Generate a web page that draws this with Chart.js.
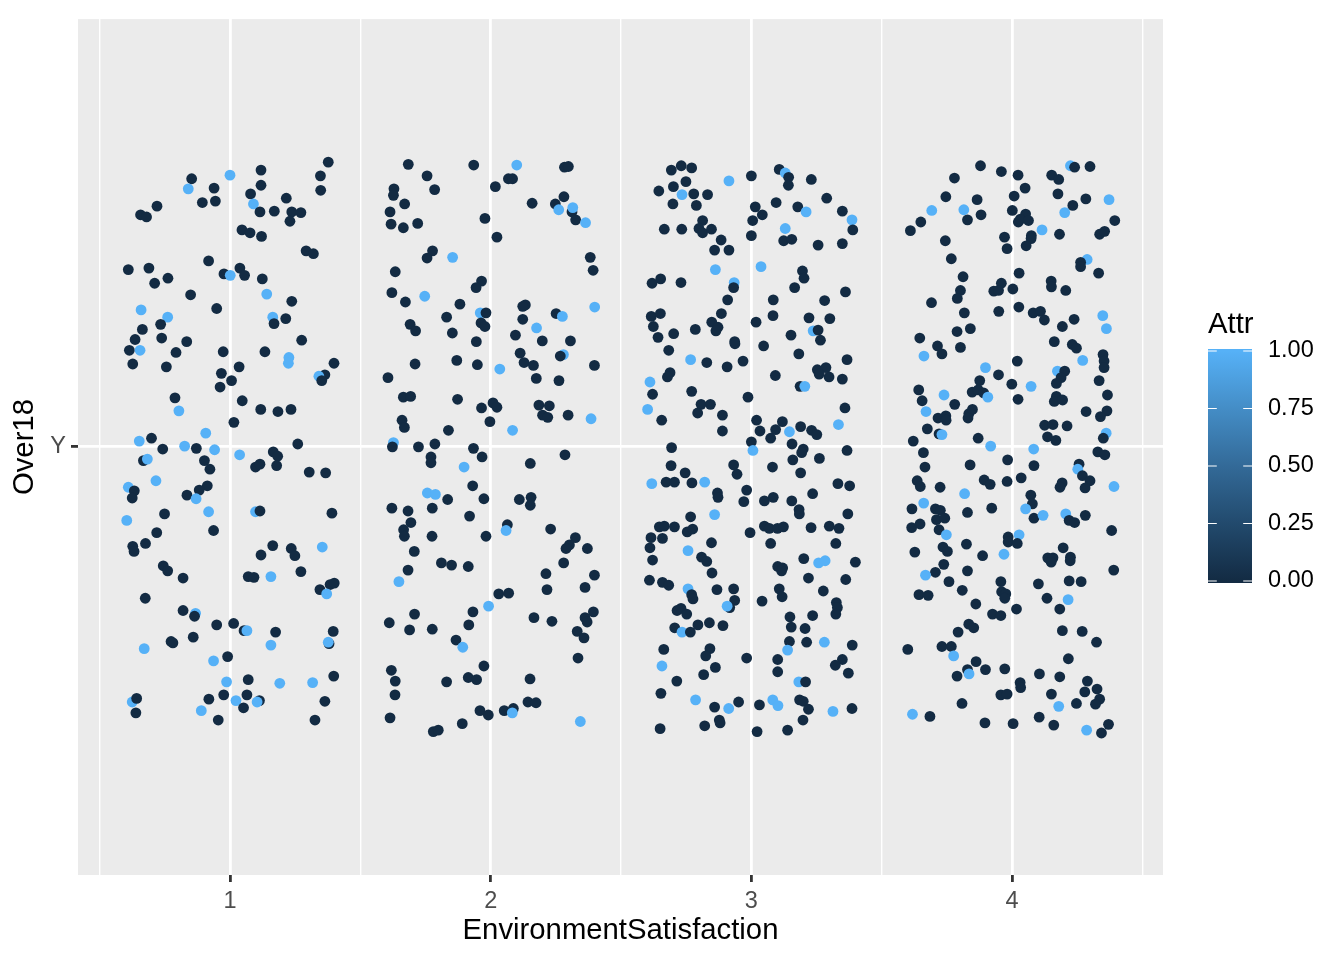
<!DOCTYPE html>
<html><head><meta charset="utf-8">
<script src="https://cdn.jsdelivr.net/npm/chart.js@4.4.1/dist/chart.umd.min.js"></script>
<style>html,body{margin:0;padding:0;background:#fff}#wrap{width:1344px;height:960px}</style>
</head><body><div id="wrap"><canvas id="c" width="1344" height="960"></canvas></div>
<script>
// ---- data ----
const categories = [1, 2, 3, 4];
const xTickLabels = ['1', '2', '3', '4'];
const yTickLabels = ['Y'];
const legendBreaks = [0, 0.25, 0.5, 0.75, 1];
const legendLabels = ['0.00', '0.25', '0.50', '0.75', '1.00'];
// each point: [EnvironmentSatisfaction (jittered), Over18 (jittered), Attr]
const sat1 = [
[1.377,1.395,0],[1.119,1.384,0],[1.000,1.377,1],[1.347,1.376,0],[0.853,1.372,0],[0.840,1.358,1],[0.939,1.359,0],[1.119,1.363,0],[1.348,1.356,0],[1.079,1.351,0],[1.216,1.345,0],[0.894,1.339,0],[0.944,1.341,0],[1.090,1.337,1],[0.720,1.334,0],[0.657,1.322,0],[0.680,1.319,0],[1.115,1.326,0],[1.170,1.327,0],[1.237,1.326,0],[1.272,1.325,0],[1.230,1.313,0],[1.046,1.301,0],[1.077,1.297,0],[1.121,1.292,0],[1.292,1.272,0],[1.320,1.268,0],[0.918,1.258,0],[0.610,1.246,0],[0.689,1.248,0],[0.977,1.240,0],[1.038,1.248,0],[1.056,1.238,0],[1.001,1.238,1],[1.124,1.233,0],[0.762,1.234,0],[0.711,1.227,0],[1.141,1.212,1],[0.849,1.211,0],[1.237,1.202,0],[0.659,1.190,1],[0.949,1.192,0],[0.761,1.180,1],[1.164,1.180,1],[1.214,1.178,0],[1.169,1.171,0],[0.734,1.170,0],[0.664,1.163,0],[0.738,1.151,0],[0.636,1.149,0],[0.834,1.146,0],[1.275,1.148,0],
[0.614,1.134,0],[0.655,1.134,1],[0.793,1.131,0],[0.974,1.132,0],[1.134,1.132,0],[1.226,1.124,1],[1.224,1.116,1],[1.399,1.116,0],[0.627,1.115,0],[0.756,1.111,0],[1.035,1.111,0],[1.364,1.100,0],[1.341,1.098,1],[1.352,1.092,0],[0.967,1.102,0],[1.006,1.092,0],[0.962,1.083,0],[0.789,1.068,0],[1.047,1.064,0],[0.804,1.050,1],[1.118,1.052,0],[1.184,1.049,0],[1.234,1.052,0],[1.015,1.034,0],[0.907,1.019,1],[0.652,1.008,1],[0.699,1.012,0],[0.742,0.997,0],[0.826,1.001,1],[0.871,0.998,0],[0.941,0.996,1],[1.260,1.004,0],[1.166,0.993,0],[1.183,0.987,0],[1.037,0.989,1],[0.668,0.981,0],[0.683,0.983,1],[0.902,0.981,0],[0.923,0.969,0],[1.098,0.972,0],[1.115,0.976,0],[1.179,0.974,0],[1.304,0.965,0],[1.367,0.964,0],[0.716,0.953,1],[0.610,0.944,1],[0.633,0.939,0],[0.625,0.929,0],[0.913,0.946,0],[0.882,0.940,0],[0.835,0.933,0],[0.870,0.928,1],[1.098,0.910,1],[1.115,0.911,0],[0.918,0.910,1],[0.749,0.907,0],[1.391,0.908,0],[0.604,0.898,1],[0.719,0.881,0],[0.937,0.884,0],
[0.676,0.866,0],[0.627,0.862,0],[0.632,0.855,0],[1.164,0.863,0],[1.235,0.859,0],[1.249,0.849,0],[1.354,0.861,1],[1.119,0.850,0],[0.744,0.835,0],[0.761,0.828,0],[0.820,0.818,0],[1.070,0.820,0],[1.092,0.819,0],[1.157,0.820,1],[1.272,0.827,0],[1.345,0.802,0],[1.384,0.809,0],[1.400,0.811,0],[1.371,0.796,1],[0.675,0.790,0],[0.820,0.773,0],[0.868,0.769,1],[0.864,0.765,0],[0.949,0.753,0],[1.014,0.755,0],[1.054,0.745,0],[1.065,0.745,1],[1.175,0.743,0],[1.396,0.744,0],[1.380,0.727,0],[1.377,0.729,1],[0.671,0.720,1],[0.774,0.730,0],[0.781,0.728,0],[0.859,0.736,0],[1.157,0.725,1],[0.937,0.703,1],[0.991,0.709,0],[0.987,0.674,1],[1.070,0.677,0],[1.191,0.672,1],[1.317,0.673,1],[1.398,0.682,0],[0.625,0.646,1],[0.642,0.651,0],[0.639,0.631,0],[0.919,0.650,0],[0.976,0.656,0],[1.065,0.656,0],[1.023,0.648,1],[1.113,0.648,0],[1.104,0.646,1],[1.052,0.638,0],[0.890,0.634,1],[0.955,0.621,0],[1.364,0.647,0],[1.326,0.621,0]
];
const sat2 = [
[1.684,1.392,0],[1.935,1.391,0],[2.100,1.391,1],[2.283,1.388,0],[2.298,1.389,0],[1.756,1.376,0],[2.068,1.372,0],[2.084,1.372,0],[1.785,1.357,0],[2.018,1.361,0],[1.629,1.358,0],[1.627,1.349,0],[1.670,1.337,0],[1.614,1.326,0],[2.159,1.338,0],[2.248,1.337,0],[2.281,1.347,0],[2.261,1.329,1],[2.312,1.326,0],[2.315,1.332,1],[2.326,1.315,0],[2.364,1.311,1],[1.618,1.309,0],[1.665,1.304,0],[1.720,1.310,0],[1.978,1.317,0],[2.024,1.291,0],[1.777,1.272,0],[1.756,1.262,0],[1.854,1.263,1],[2.382,1.263,0],[2.393,1.245,0],[1.634,1.243,0],[1.965,1.230,0],[1.944,1.221,0],[1.621,1.214,0],[1.673,1.201,0],[1.747,1.209,1],[1.882,1.198,0],[2.133,1.197,0],[2.123,1.195,0],[2.399,1.194,1],[1.831,1.180,0],[1.960,1.186,1],[1.982,1.186,0],[2.123,1.177,0],[2.251,1.185,0],[2.275,1.181,1],[1.691,1.170,0],[1.712,1.161,0],[1.853,1.158,0],[1.963,1.172,0],[1.978,1.167,0],[2.176,1.165,1],[2.095,1.155,0],[2.198,1.147,0],[2.306,1.147,0],[1.945,1.146,0],
[2.113,1.130,0],[2.279,1.128,1],[2.267,1.126,0],[1.710,1.115,0],[1.870,1.120,0],[1.949,1.114,0],[2.035,1.108,1],[2.128,1.117,0],[2.164,1.113,0],[2.398,1.113,0],[1.606,1.096,0],[2.175,1.095,0],[2.262,1.092,0],[1.665,1.069,0],[1.693,1.070,0],[1.873,1.066,0],[1.965,1.054,0],[2.009,1.061,0],[2.024,1.055,0],[2.185,1.058,0],[2.225,1.057,0],[2.199,1.044,0],[2.219,1.041,0],[2.297,1.044,0],[2.385,1.039,1],[1.660,1.037,0],[1.669,1.027,0],[1.997,1.035,0],[1.838,1.023,0],[2.084,1.023,1],[1.627,1.006,1],[1.623,1.000,0],[1.723,1.000,0],[1.786,1.004,0],[1.934,0.998,0],[1.967,0.986,0],[1.771,0.986,0],[1.771,0.978,0],[2.285,0.989,0],[2.152,0.977,0],[1.898,0.972,1],[1.931,0.946,0],[1.757,0.936,1],[1.788,0.934,1],[1.835,0.927,0],[1.974,0.928,0],[2.110,0.927,0],[2.155,0.930,0],[2.152,0.919,0],[1.621,0.915,0],[1.683,0.911,0],[1.776,0.915,0],[1.694,0.895,0],[1.919,0.904,0],[1.666,0.885,0],[1.669,0.876,0],[1.775,0.876,0],[1.982,0.876,0],[2.064,0.892,0],[2.059,0.884,1],[2.230,0.886,0],[2.325,0.874,0],
[2.302,0.864,0],[2.289,0.859,0],[2.371,0.859,0],[1.707,0.855,0],[2.280,0.839,0],[1.811,0.839,0],[1.850,0.836,0],[1.914,0.834,0],[1.683,0.829,0],[1.648,0.813,1],[2.212,0.824,0],[2.398,0.822,0],[2.216,0.802,0],[2.362,0.805,0],[2.031,0.796,0],[2.069,0.797,0],[1.992,0.779,1],[1.708,0.768,0],[1.932,0.771,0],[1.611,0.756,0],[1.689,0.746,0],[1.776,0.747,0],[1.916,0.753,0],[2.166,0.763,0],[2.235,0.758,0],[2.362,0.763,0],[2.394,0.771,0],[2.370,0.757,0],[2.332,0.744,0],[2.358,0.735,0],[1.867,0.732,0],[1.893,0.722,1],[2.335,0.707,0],[1.619,0.690,0],[1.634,0.675,0],[1.633,0.656,0],[1.831,0.674,0],[1.914,0.680,0],[1.946,0.677,0],[1.974,0.696,0],[2.151,0.678,0],[2.143,0.646,0],[2.174,0.645,0],[1.959,0.634,0],[1.991,0.628,0],[2.052,0.634,0],[2.087,0.637,0],[2.083,0.631,1],[2.344,0.619,1],[1.614,0.624,0],[1.891,0.616,0],[1.780,0.605,0],[1.799,0.607,0]
];
const sat3 = [
[2.693,1.384,0],[2.731,1.390,0],[2.771,1.387,0],[2.914,1.369,1],[3.000,1.376,0],[3.107,1.385,0],[3.130,1.380,1],[3.143,1.374,0],[3.142,1.363,0],[3.230,1.371,0],[2.701,1.361,0],[2.749,1.368,0],[2.645,1.355,0],[2.734,1.350,1],[2.779,1.351,0],[2.832,1.350,0],[2.699,1.337,0],[2.789,1.335,0],[3.289,1.345,0],[3.015,1.333,0],[3.042,1.322,0],[3.095,1.339,0],[3.178,1.333,0],[3.210,1.326,1],[3.349,1.327,0],[3.386,1.315,1],[3.389,1.301,0],[3.005,1.314,0],[2.813,1.314,0],[2.799,1.303,0],[2.813,1.297,0],[2.847,1.302,0],[2.666,1.302,0],[2.733,1.302,0],[3.130,1.303,1],[3.000,1.293,0],[3.124,1.286,0],[3.155,1.288,0],[3.256,1.280,0],[3.349,1.282,0],[2.884,1.287,0],[2.859,1.273,0],[2.914,1.273,0],[2.862,1.246,1],[3.037,1.250,1],[3.196,1.244,0],[3.202,1.234,0],[2.619,1.227,0],[2.652,1.233,0],[2.730,1.228,0],[2.934,1.228,1],[2.932,1.221,0],[3.166,1.221,0],[3.361,1.215,0],[2.909,1.204,0],[3.084,1.204,0],[3.281,1.203,0],[2.616,1.181,0],[2.651,1.185,0],[2.885,1.185,0],[2.624,1.167,0],[2.642,1.152,0],[2.702,1.157,0],[2.785,1.163,0],[2.848,1.173,0],[2.872,1.166,0],[2.864,1.161,0],[3.018,1.173,0],[3.083,1.182,0],[3.221,1.179,0],[3.301,1.178,0],[3.237,1.161,1],[3.256,1.162,0],[3.265,1.148,0],[3.152,1.155,0],[2.936,1.146,0],[2.937,1.143,0],[3.047,1.140,0],
[2.683,1.134,0],[3.182,1.129,0],[2.767,1.121,1],[2.829,1.117,0],[2.907,1.111,0],[2.968,1.119,0],[3.367,1.121,0],[2.688,1.103,0],[2.678,1.097,0],[3.092,1.099,0],[3.253,1.107,0],[3.286,1.110,0],[3.260,1.101,0],[3.298,1.097,0],[3.349,1.094,0],[3.187,1.084,0],[3.205,1.084,1],[2.611,1.090,1],[2.621,1.073,0],[2.771,1.077,0],[2.987,1.069,0],[2.602,1.052,1],[2.656,1.037,0],[2.807,1.059,0],[2.843,1.059,0],[2.794,1.047,0],[2.889,1.044,0],[2.889,1.022,0],[3.359,1.054,0],[3.020,1.037,0],[3.033,1.022,0],[3.119,1.035,0],[3.093,1.024,0],[3.074,1.012,0],[3.146,1.021,1],[3.189,1.028,0],[3.231,1.023,0],[3.251,1.017,0],[3.334,1.031,1],[3.000,1.007,0],[3.006,0.995,1],[3.156,1.004,0],[3.199,0.997,0],[3.193,0.992,0],[3.159,0.982,0],[3.261,0.984,0],[3.367,0.995,0],[2.694,0.999,0],[2.692,0.974,0],[2.932,0.975,0],[2.945,0.962,0],[2.746,0.964,0],[3.081,0.972,0],[3.189,0.964,0],[2.618,0.949,1],[2.673,0.951,0],[2.705,0.951,0],[2.772,0.950,0],[2.821,0.951,1],[2.870,0.936,0],[2.872,0.930,0],[2.982,0.940,0],[2.971,0.924,0],[3.050,0.925,0],[3.084,0.930,0],[3.155,0.925,0],[3.183,0.913,0],[3.184,0.907,0],[3.235,0.935,0],[3.332,0.949,0],[3.377,0.946,0],[2.859,0.906,1],[2.767,0.903,0],[2.647,0.889,0],[2.666,0.890,0],[2.705,0.889,0],[2.754,0.882,0],[2.775,0.886,0],[2.995,0.881,0],[3.050,0.890,0],[3.069,0.887,0],[3.100,0.887,0],[3.123,0.889,0],[3.229,0.888,0],[3.299,0.890,0],[3.336,0.887,0],[3.370,0.907,0],[2.615,0.874,0],[2.659,0.873,0],
[2.611,0.860,0],[2.757,0.856,1],[2.847,0.867,0],[3.074,0.866,0],[3.324,0.866,0],[2.621,0.843,0],[2.809,0.847,0],[2.829,0.841,0],[2.849,0.825,0],[3.201,0.845,0],[3.258,0.839,1],[3.283,0.842,1],[3.399,0.840,0],[3.101,0.834,0],[3.120,0.832,0],[3.116,0.828,0],[3.219,0.818,0],[3.362,0.816,0],[2.609,0.815,0],[2.659,0.812,0],[2.683,0.808,0],[2.757,0.803,1],[2.771,0.795,0],[2.776,0.789,0],[2.868,0.802,0],[2.932,0.803,0],[2.936,0.787,0],[2.917,0.777,0],[2.907,0.779,1],[3.107,0.803,0],[3.118,0.792,0],[3.041,0.786,0],[3.276,0.800,0],[3.326,0.784,0],[3.330,0.777,0],[3.324,0.768,0],[2.715,0.773,0],[2.730,0.776,0],[2.752,0.768,0],[3.148,0.764,0],[3.235,0.766,0],[2.795,0.753,0],[2.839,0.756,0],[2.891,0.752,0],[2.706,0.749,0],[2.734,0.743,1],[2.766,0.743,0],[3.153,0.750,0],[3.206,0.748,0],[3.146,0.730,0],[3.212,0.729,0],[3.280,0.729,1],[3.387,0.725,0],[2.664,0.719,0],[2.841,0.720,0],[2.825,0.710,0],[2.982,0.707,0],[3.101,0.705,0],[3.139,0.718,1],[2.657,0.696,1],[3.349,0.705,0],[3.322,0.697,0],[3.372,0.686,0],[2.862,0.694,0],[2.817,0.684,0],[3.101,0.688,0],[2.714,0.675,0],[3.182,0.674,1],[3.208,0.674,0],[2.653,0.658,0],[2.786,0.649,1],[2.859,0.639,0],[2.913,0.637,1],[2.951,0.646,0],[3.031,0.642,0],[3.082,0.649,1],[3.102,0.641,1],[3.185,0.649,0],[3.199,0.647,0],[3.219,0.636,0],[3.313,0.633,1],[3.386,0.637,0],[3.198,0.621,0],[2.877,0.621,0],[2.880,0.617,0],[2.821,0.613,0],[2.650,0.609,0],[3.022,0.605,0],[3.139,0.607,0]
];
const sat4 = [
[3.879,1.390,0],[3.959,1.382,0],[4.023,1.377,0],[3.779,1.373,0],[4.224,1.390,1],[4.240,1.388,0],[4.299,1.389,0],[4.152,1.377,0],[4.179,1.371,0],[4.050,1.359,0],[4.176,1.351,0],[3.746,1.347,0],[3.866,1.343,0],[4.008,1.348,0],[4.283,1.344,0],[4.233,1.335,0],[4.202,1.325,1],[4.372,1.343,1],[3.692,1.328,1],[3.815,1.329,1],[3.829,1.315,0],[3.881,1.322,0],[4.001,1.328,0],[4.052,1.323,0],[4.024,1.312,0],[4.032,1.316,0],[4.063,1.314,0],[3.650,1.312,0],[3.610,1.300,0],[4.115,1.301,1],[4.182,1.295,0],[4.394,1.314,0],[4.336,1.295,0],[4.355,1.299,0],[3.744,1.286,0],[3.971,1.291,0],[3.981,1.275,0],[4.074,1.293,0],[4.073,1.289,0],[4.054,1.279,0],[3.767,1.261,0],[4.288,1.260,1],[4.263,1.256,0],[4.263,1.250,0],[4.332,1.241,0],[3.812,1.236,0],[4.027,1.241,0],[3.802,1.217,0],[3.790,1.206,0],[3.930,1.216,0],[3.959,1.227,0],[3.948,1.217,0],[4.003,1.219,0],[4.150,1.230,0],[4.151,1.222,0],[4.206,1.217,0],[3.691,1.200,0],[3.817,1.186,0],[3.949,1.188,0],[4.026,1.194,0],[4.081,1.186,0],[4.109,1.188,0],[4.124,1.176,0],[4.238,1.177,0],[4.193,1.167,0],[4.348,1.182,1],[4.362,1.164,1],[3.789,1.160,0],[3.840,1.164,0],[3.646,1.151,0],[3.714,1.140,0],[3.802,1.138,0],[4.162,1.146,0],[4.231,1.142,0],[4.247,1.137,0],
[3.662,1.126,1],[3.731,1.129,0],[4.349,1.128,0],[4.353,1.119,0],[4.353,1.110,0],[4.020,1.119,0],[4.271,1.120,1],[3.898,1.110,1],[3.948,1.100,0],[4.174,1.105,1],[4.202,1.105,0],[4.188,1.096,0],[4.170,1.088,0],[3.876,1.092,0],[3.999,1.087,0],[4.073,1.084,1],[4.334,1.092,0],[3.642,1.079,0],[3.739,1.072,1],[3.847,1.076,0],[3.870,1.079,0],[3.891,1.075,0],[3.907,1.069,1],[4.023,1.066,0],[3.655,1.064,0],[3.780,1.059,0],[4.170,1.070,0],[4.162,1.063,0],[4.194,1.065,0],[4.366,1.072,0],[3.670,1.049,1],[3.716,1.040,0],[3.746,1.043,0],[3.747,1.037,0],[3.834,1.046,0],[3.848,1.052,0],[3.831,1.040,0],[4.284,1.049,0],[4.364,1.050,0],[4.339,1.042,0],[3.675,1.025,0],[3.720,1.018,0],[3.731,1.017,1],[4.125,1.030,0],[4.157,1.031,0],[4.211,1.029,0],[4.136,1.014,0],[4.168,1.009,0],[4.361,1.019,1],[4.350,1.012,0],[3.621,1.008,0],[3.870,1.012,0],[3.918,1.001,1],[4.083,0.997,1],[3.660,0.992,0],[4.329,0.993,0],[4.356,0.989,0],[3.666,0.972,0],[3.839,0.975,0],[3.983,0.982,0],[4.084,0.974,0],[4.257,0.976,0],[4.252,0.969,1],[4.270,0.960,0],[4.299,0.953,0],[4.280,0.943,0],[3.636,0.953,0],[3.648,0.945,0],[3.724,0.944,0],[3.893,0.954,0],[3.916,0.948,0],[3.981,0.952,0],[4.035,0.957,0],[4.192,0.950,0],[4.184,0.944,0],[4.391,0.945,1],[3.818,0.935,1],[4.072,0.933,0],[4.078,0.921,0],[4.052,0.914,1],[4.084,0.901,0],[4.119,0.905,1],[4.206,0.907,1],[4.219,0.898,0],[4.240,0.895,0],[4.281,0.905,0],[3.661,0.922,1],[3.616,0.914,0],[3.706,0.914,0],[3.725,0.912,0],[3.710,0.899,0],[3.742,0.901,0],[3.829,0.909,0],[3.922,0.915,0],[3.720,0.885,0],[3.748,0.878,1],[3.615,0.888,0],[3.647,0.893,0],[4.382,0.884,0],[3.985,0.875,0],[4.027,0.878,1],
[3.735,0.861,0],[3.752,0.855,0],[3.825,0.865,0],[3.985,0.868,0],[4.020,0.866,0],[3.969,0.851,1],[4.196,0.860,0],[3.627,0.854,0],[3.887,0.849,0],[3.738,0.837,0],[3.706,0.826,0],[3.668,0.822,1],[3.829,0.828,0],[3.758,0.813,0],[3.809,0.801,0],[4.137,0.846,0],[4.157,0.846,0],[4.150,0.840,0],[4.224,0.847,0],[4.223,0.842,0],[4.390,0.829,0],[3.957,0.813,0],[3.960,0.799,0],[3.976,0.796,0],[3.972,0.790,0],[4.101,0.810,0],[4.219,0.814,0],[4.265,0.813,0],[3.643,0.795,0],[3.678,0.794,0],[4.134,0.790,0],[4.215,0.788,1],[4.183,0.775,0],[3.861,0.782,0],[3.925,0.768,0],[3.957,0.766,0],[4.017,0.775,0],[3.834,0.754,0],[3.853,0.749,0],[3.793,0.743,0],[4.193,0.745,0],[4.269,0.744,0],[4.324,0.729,0],[3.600,0.719,0],[3.731,0.723,0],[3.767,0.723,0],[3.776,0.710,1],[4.216,0.706,0],[3.862,0.702,0],[3.829,0.691,0],[3.898,0.691,0],[3.835,0.685,1],[3.789,0.682,0],[3.972,0.692,0],[4.105,0.685,0],[4.183,0.681,0],[4.031,0.673,0],[4.033,0.666,0],[4.289,0.675,0],[4.279,0.660,0],[4.326,0.664,0],[4.336,0.650,0],[4.320,0.643,0],[4.247,0.644,0],[4.151,0.657,0],[4.179,0.640,1],[3.957,0.656,0],[3.981,0.657,0],[3.808,0.644,0],[3.618,0.629,1],[3.685,0.626,0],[3.896,0.617,0],[4.004,0.616,0],[4.104,0.625,0],[4.160,0.614,0],[4.286,0.607,1],[4.343,0.603,0],[4.370,0.615,0]
];

// ---- styling ----
const FONT = "'Liberation Sans', Arial, Helvetica, sans-serif";
const LOW = '#132B43', HIGH = '#56B1F7';
const PANEL_BG = '#EBEBEB';
const PANEL = {left: 78, top: 15, right: 1163, bottom: 875};
const MAJOR_W = 2.8, MINOR_W = 1.4;

const allPoints = [].concat(sat1, sat2, sat3, sat4).map(p => ({x: p[0], y: p[1], a: p[2]}));

const bgPlugin = {
  id: 'bg',
  beforeDraw(chart) {
    const c = chart.ctx, a = chart.chartArea;
    c.save();
    c.fillStyle = '#fff';
    c.fillRect(0, 0, chart.width, chart.height);
    c.fillStyle = PANEL_BG;
    c.fillRect(a.left, a.top, a.right - a.left, a.bottom - a.top);
    c.restore();
  }
};

const annoPlugin = {
  id: 'anno',
  afterDraw(chart) {
    const c = chart.ctx, a = chart.chartArea;
    c.save();
    c.fillStyle = '#000';
    c.font = '29.3px ' + FONT;
    c.textAlign = 'center';
    c.textBaseline = 'middle';
    c.fillText('EnvironmentSatisfaction', (a.left + a.right) / 2, 931);
    c.save();
    c.translate(25, (a.top + a.bottom) / 2);
    c.rotate(-Math.PI / 2);
    c.fillText('Over18', 0, 0);
    c.restore();
    // legend
    const bx = 1208, bw = 44, bt = 351, bb = 581;
    c.textAlign = 'left';
    c.fillText('Attr', bx, 325);
    const g = c.createLinearGradient(0, bb, 0, bt);
    g.addColorStop(0, '#132B43');
    g.addColorStop(0.25, '#224A6D');
    g.addColorStop(0.5, '#336A98');
    g.addColorStop(0.75, '#448DC6');
    g.addColorStop(1, '#56B1F7');
    c.fillStyle = g;
    c.fillRect(bx, bt - 2, bw, bb - bt + 4);
    c.strokeStyle = '#fff';
    c.lineWidth = 1.2;
    c.font = '23.5px ' + FONT;
    c.fillStyle = '#000';
    legendBreaks.forEach((v, i) => {
      const y = bb - v * (bb - bt);
      c.beginPath();
      c.moveTo(bx, y); c.lineTo(bx + bw / 5, y);
      c.moveTo(bx + bw, y); c.lineTo(bx + bw - bw / 5, y);
      c.stroke();
      c.fillText(legendLabels[i], 1268, y);
    });
    c.restore();
  }
};

const isMajorX = v => categories.includes(v);

new Chart(document.getElementById('c'), {
  type: 'scatter',
  data: {
    datasets: [{
      data: allPoints,
      pointRadius: 5.4,
      pointHoverRadius: 5.4,
      borderWidth: 0,
      backgroundColor: ctx => (ctx.raw && ctx.raw.a) ? HIGH : LOW
    }]
  },
  options: {
    responsive: false,
    animation: false,
    devicePixelRatio: 1,
    layout: {padding: {left: 0, top: PANEL.top, right: 1344 - PANEL.right, bottom: 0}},
    plugins: {legend: {display: false}, tooltip: {enabled: false}},
    scales: {
      x: {
        type: 'linear',
        min: 0.417, max: 4.579,
        afterBuildTicks: s => { s.ticks = [0.5, 1, 1.5, 2, 2.5, 3, 3.5, 4, 4.5].map(v => ({value: v})); },
        afterFit: s => { s.height = 960 - PANEL.bottom; },
        border: {display: false},
        grid: {
          color: '#FFFFFF',
          lineWidth: c => isMajorX(c.tick.value) ? MAJOR_W : MINOR_W,
          tickColor: c => isMajorX(c.tick.value) ? '#333333' : 'rgba(0,0,0,0)',
          tickWidth: MAJOR_W,
          tickLength: 7
        },
        ticks: {
          autoSkip: false, maxRotation: 0, padding: 5,
          color: '#4D4D4D', font: {family: FONT, size: 23.5},
          callback: v => { const i = categories.indexOf(v); return i >= 0 ? xTickLabels[i] : ''; }
        }
      },
      y: {
        type: 'linear',
        min: 0.406, max: 1.5935,
        afterBuildTicks: s => { s.ticks = [{value: 1}]; },
        afterFit: s => { s.width = PANEL.left; },
        border: {display: false},
        grid: {color: '#FFFFFF', lineWidth: MAJOR_W, tickColor: '#333333', tickWidth: MAJOR_W, tickLength: 7},
        ticks: {
          autoSkip: false, padding: 5,
          color: '#4D4D4D', font: {family: FONT, size: 23.5},
          callback: () => yTickLabels[0]
        }
      }
    }
  },
  plugins: [bgPlugin, annoPlugin]
});
</script>
</body></html>
